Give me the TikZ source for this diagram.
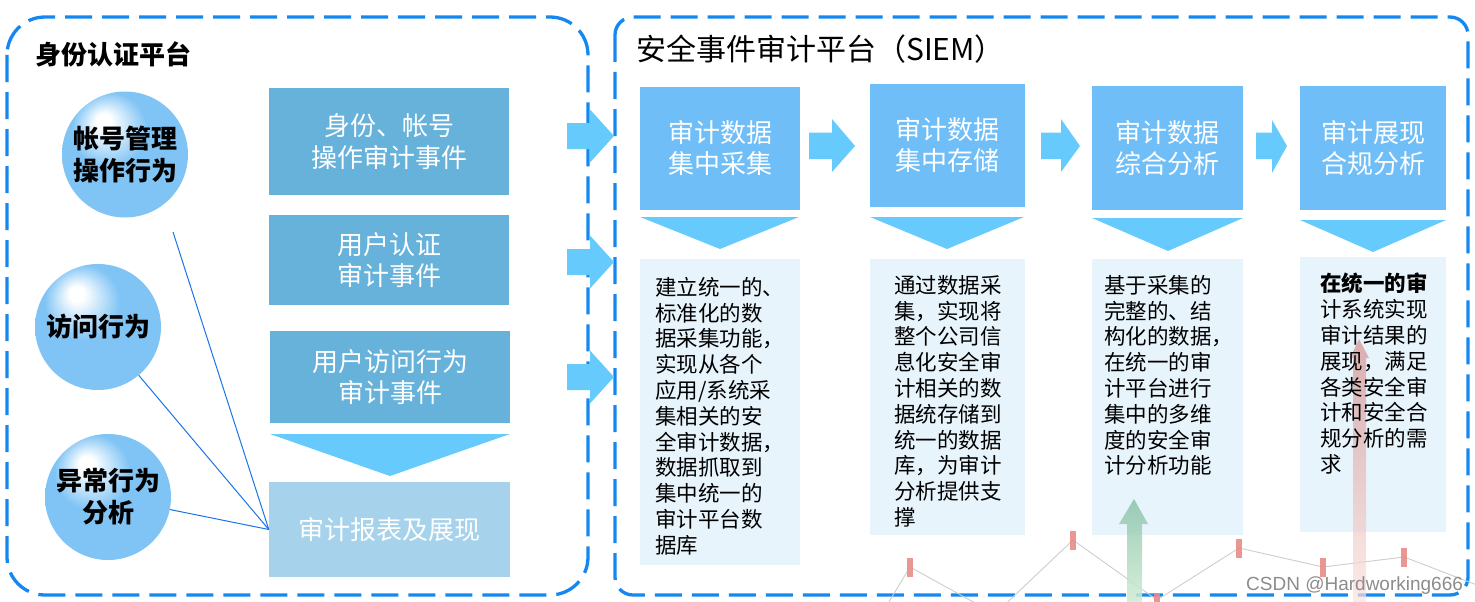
\documentclass[tikz,border=0pt]{standalone}
\usepackage{fontspec}
\newfontfamily\cjk{Noto Sans CJK SC}
\newfontfamily\wmfont{Liberation Sans}
\definecolor{dashc}{RGB}{20,136,240}
\definecolor{lboxc}{RGB}{102,178,218}
\definecolor{rptc}{RGB}{166,211,235}
\definecolor{rboxc}{RGB}{112,190,247}
\definecolor{arrc}{RGB}{102,202,253}
\definecolor{txtbg}{RGB}{232,244,252}
\definecolor{ballc}{RGB}{128,196,245}
\definecolor{linkc}{RGB}{24,116,232}
\definecolor{chartc}{RGB}{205,205,205}
\definecolor{markc}{RGB}{232,140,135}
\pgfdeclareradialshading{ballshade}{\pgfpoint{-9bp}{14bp}}{color(0bp)=(white); color(3bp)=(white); color(15bp)=(ballc); color(50bp)=(ballc)}
\begin{document}
\begin{tikzpicture}[x=1pt,y=-1pt,
  dashbox/.style={draw=dashc, line width=3.3pt, dash pattern=on 27pt off 10pt},
  lbox/.style={fill=lboxc, text=white, inner sep=0pt, minimum width=240pt, align=center, font=\cjk\fontsize{26}{31.5}\selectfont},
  rbox/.style={fill=rboxc, text=white, inner sep=0pt, align=center, font=\cjk\fontsize{26}{31}\selectfont},
  tbox/.style={fill=txtbg, inner sep=0pt},
  ttext/.style={anchor=north west, inner sep=0pt, align=left, font=\cjk\fontsize{21.5}{25.8}\selectfont},
  ball/.style={circle, minimum size=126pt, inner sep=0pt, shading=ballshade, align=center, font=\cjk\bfseries\fontsize{26}{32}\selectfont},
  link/.style={draw=linkc, line width=1pt},
  markbar/.style={fill=markc, opacity=0.9},
]
\useasboundingbox (0,0) rectangle (1475,602);

% dashed panels
\draw[dashbox, rounded corners=38pt] (7,17) rectangle (588,595);
\draw[dashbox, rounded corners=18pt] (615,17) rectangle (1468,595);

% titles
\node[anchor=base west, inner sep=0pt, font=\cjk\bfseries\fontsize{26}{31}\selectfont] (t1) at (35,65) {身份认证平台};
\node[anchor=base west, inner sep=0pt, font=\cjk\fontsize{30}{36}\selectfont] (t2) at (636,61) {安全事件审计平台（SIEM）};

% left circles
\node[ball] (c1) at (125,154.5) {帐号管理\\操作行为};
\node[ball] (c2) at (98,327) {访问行为};
\node[ball] (c3) at (108,497) {异常行为\\分析};

% left boxes
\node[lbox, minimum height=107pt] (b1) at (389,141.5) {身份、帐号\\操作审计事件};
\node[lbox, minimum height=90pt] (b2) at (389,260) {用户认证\\审计事件};
\node[lbox, minimum height=92pt] (b3) at (390,377) {用户访问行为\\审计事件};
\fill[arrc] (270,434) -- (510,434) -- (390,476) -- cycle;
\node[lbox, fill=rptc, minimum width=241pt, minimum height=95pt] (rpt) at (389.5,529.5) {审计报表及展现};

% links
\coordinate (c1s) at (173,232);
\draw[link] (c1s) -- (rpt.west);
\draw[link] (c2) -- (rpt.west);
\draw[link] (c3) -- (rpt.west);

% arrows from left panel to right panel
\foreach \yy in {136,262,377}{
  \fill[arrc] (567,\yy-13) -- (590,\yy-13) -- (590,\yy-26.5) -- (614,\yy) -- (590,\yy+26.5) -- (590,\yy+13) -- (567,\yy+13) -- cycle;
}

% right top boxes
\node[rbox, minimum width=160pt, minimum height=123pt] (s1) at (720,148.5) {审计数据\\集中采集};
\node[rbox, minimum width=155pt, minimum height=123pt] (s2) at (947.5,145.5) {审计数据\\集中存储};
\node[rbox, minimum width=151pt, minimum height=124pt] (s3) at (1167.5,148) {审计数据\\综合分析};
\node[rbox, minimum width=146pt, minimum height=124pt] (s4) at (1373,148) {审计展现\\合规分析};

% arrows between top boxes
\fill[arrc] (809,132.5) -- (832,132.5) -- (832,119) -- (855,146) -- (832,172) -- (832,159) -- (809,159) -- cycle;
\fill[arrc] (1041,132.5) -- (1061,132.5) -- (1061,119) -- (1080,146) -- (1061,172) -- (1061,159) -- (1041,159) -- cycle;
\fill[arrc] (1256,132.5) -- (1272,132.5) -- (1272,120) -- (1287,146) -- (1272,173) -- (1272,159) -- (1256,159) -- cycle;

% down triangles
\fill[arrc] (640,217) -- (799,217) -- (720,249) -- cycle;
\fill[arrc] (870,217) -- (1024,217) -- (947,249) -- cycle;
\fill[arrc] (1092,218) -- (1243,218) -- (1168,251) -- cycle;
\fill[arrc] (1300,220) -- (1446,220) -- (1373,252) -- cycle;

% text boxes
\node[tbox, minimum width=160pt, minimum height=306pt] (d1) at (720,412) {};
\node[tbox, minimum width=155pt, minimum height=276pt] (d2) at (947.5,397) {};
\node[tbox, minimum width=151pt, minimum height=276pt] (d3) at (1167.5,397) {};
\node[tbox, minimum width=146pt, minimum height=275pt] (d4) at (1373,394.5) {};

% background chart decoration
\begin{scope}
\clip (0,0) rectangle (1475,602);
\draw[chartc, line width=0.9pt] (878,620) -- (910,567) -- (995,614) -- (1073,540) -- (1157,600) -- (1239,548) -- (1323,567) -- (1404,557) -- (1490,590);
\foreach \mx/\my in {910/567, 1073/540, 1157/602, 1239/548, 1323/567, 1404/557}{
  \fill[markbar] (\mx-3,\my-9.5) rectangle (\mx+3,\my+9.5);
}
\shade[top color={rgb,255:red,140;green,195;blue,170}, bottom color={rgb,255:red,205;green,236;blue,210}, opacity=0.85]
  (1127,602) -- (1127,524) -- (1119,524) -- (1134,499) -- (1148,524) -- (1142,524) -- (1142,602) -- cycle;
\shade[top color={rgb,255:red,212;green,145;blue,145}, bottom color={rgb,255:red,250;green,226;blue,222}, opacity=0.7]
  (1353,602) -- (1353,358) -- (1350,358) -- (1359,339) -- (1369,358) -- (1366,358) -- (1366,602) -- cycle;
\end{scope}

% texts in text boxes
\node[ttext] (x1) at (655,277) {建立统一的、\\标准化的数\\据采集功能，\\实现从各个\\应用/系统采\\集相关的安\\全审计数据，\\数据抓取到\\集中统一的\\审计平台数\\据库};
\node[ttext] (x2) at (894,275) {通过数据采\\集，实现将\\整个公司信\\息化安全审\\计相关的数\\据统存储到\\统一的数据\\库，为审计\\分析提供支\\撑};
\node[ttext] (x3) at (1104,275) {基于采集的\\完整的、结\\构化的数据，\\在统一的审\\计平台进行\\集中的多维\\度的安全审\\计分析功能};
\node[ttext] (x4) at (1320,273) {\textbf{在统一的审}\\计系统实现\\审计结果的\\展现，满足\\各类安全审\\计和安全合\\规分析的需\\求};

% watermark
\node[anchor=base west, inner sep=0pt, text={rgb,255:red,140;green,140;blue,140}, font=\wmfont\fontsize{19}{22}\selectfont] (wm) at (1246,590) {CSDN @Hardworking666};
\end{tikzpicture}
\end{document}
